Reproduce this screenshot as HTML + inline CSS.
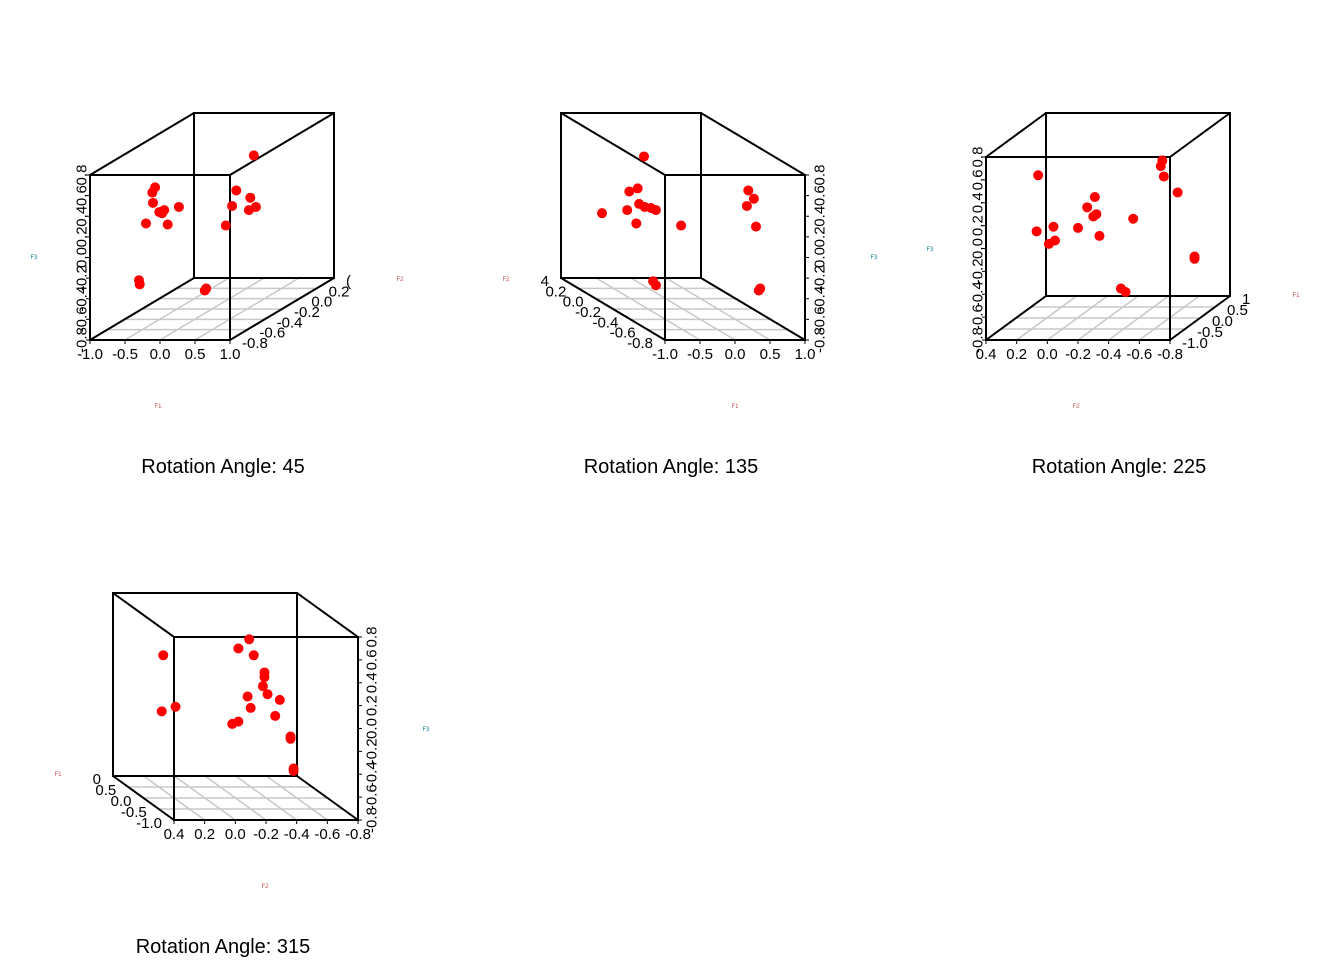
<!DOCTYPE html>
<html><head><meta charset="utf-8"><style>
body{margin:0;background:#fff;}
svg{display:block;font-family:"Liberation Sans",sans-serif;}
</style></head><body>
<svg id="chart" width="1344" height="960" viewBox="0 0 1344 960"></svg>
<script>
// ---- data ----
const titles = ["Rotation Angle: 45","Rotation Angle: 135","Rotation Angle: 225","Rotation Angle: 315"];
const zTicks = [-0.8,-0.6,-0.4,-0.2,0.0,0.2,0.4,0.6,0.8];
const hTicksA = [-1.0,-0.5,0.0,0.5,1.0];
const hTicksB = [0.4,0.2,0.0,-0.2,-0.4,-0.6,-0.8];
const dTicksA = ["-0.8","-0.6","-0.4","-0.2","0.0","0.2","("];
const dTicksB = ["-0.8","-0.6","-0.4","-0.2","0.0","0.2","4"];
const dTicksC = ["-1.0","-0.5","0.0","0.5","1"];
const dTicksD = ["-1.0","-0.5","0.0","0.5","0"];
const p1H=[1.34,1.09,1.29,1.03,1.37,1.27,0.94,-0.07,-0.11,-0.10,0.27,0.06,-0.01,0.03,-0.20,0.11,-0.30,-0.29,0.66,0.64];
const p1V=[0.99,0.65,0.58,0.50,0.49,0.46,0.31,0.68,0.63,0.53,0.49,0.46,0.44,0.43,0.33,0.32,-0.22,-0.26,-0.30,-0.32];
const p2H=[-1.30,-1.51,-1.39,-1.37,-1.54,-1.29,-1.20,-1.13,-1.90,-1.41,-0.77,0.19,0.27,0.17,0.30,-1.17,-1.13,0.36,0.34];
const p2V=[0.98,0.64,0.67,0.52,0.46,0.49,0.48,0.46,0.43,0.33,0.31,0.65,0.57,0.50,0.30,-0.23,-0.27,-0.30,-0.32];
const p3H=[-0.75,-0.74,-0.76,-0.85,0.06,-0.31,-0.26,-0.32,-0.30,-0.56,-0.04,-0.20,0.07,-0.34,-0.05,-0.01,-0.96,-0.96,-0.48,-0.51];
const p3V=[0.77,0.72,0.63,0.49,0.64,0.45,0.36,0.30,0.28,0.26,0.19,0.18,0.15,0.11,0.07,0.04,-0.07,-0.09,-0.35,-0.38];
const p4H=[-0.09,-0.02,-0.12,0.47,-0.19,-0.19,-0.18,-0.21,-0.08,-0.29,0.39,0.48,-0.10,-0.26,-0.02,0.02,-0.36,-0.36,-0.38,-0.38];
const p4V=[0.78,0.70,0.64,0.64,0.49,0.45,0.37,0.30,0.28,0.25,0.19,0.15,0.18,0.11,0.06,0.04,-0.07,-0.09,-0.35,-0.37];

const NS="http://www.w3.org/2000/svg";
const svg=document.getElementById('chart');
function mk(tag,attrs,parent,text){const e=document.createElementNS(NS,tag);for(const k in attrs)e.setAttribute(k,attrs[k]);if(text!==undefined)e.textContent=text;(parent||svg).appendChild(e);return e;}

const panels=[
 {L:90,R:230,T:175,B:340,dx:104,dy:-62,h0:-1,h1:1,hT:hTicksA,vX:82,vSide:-1,dT:dTicksA,H:p1H,V:p1V,title:[223,466],
  lab:[["F1",158,408,"#c0504d"],["F2",400,281,"#c0504d"],["F3",34,259,"#1f7fa0"]]},
 {L:665,R:805,T:175,B:340,dx:-104,dy:-62,h0:-1,h1:1,hT:hTicksA,vX:820,vSide:1,dT:dTicksB,H:p2H,V:p2V,title:[671,466],
  lab:[["F1",735,408,"#c0504d"],["F2",506,281,"#c0504d"],["F3",874,259,"#1f7fa0"]]},
 {L:986,R:1170,T:157,B:340,dx:60,dy:-44,h0:0.4,h1:-0.8,hT:hTicksB,vX:978,vSide:-1,dT:dTicksC,H:p3H,V:p3V,title:[1119,466],
  lab:[["F2",1076,408,"#c0504d"],["F1",1296,297,"#c0504d"],["F3",930,251,"#1f7fa0"]]},
 {L:174,R:358,T:637,B:820,dx:-61,dy:-44,h0:0.4,h1:-0.8,hT:hTicksB,vX:372,vSide:1,dT:dTicksD,H:p4H,V:p4V,title:[223,946],
  lab:[["F2",265,888,"#c0504d"],["F1",58,776,"#c0504d"],["F3",426,731,"#1f7fa0"]]}
];

panels.forEach((p,i)=>{
 const g=mk('g',{});
 
 
 const sx=h=>p.L+(h-p.h0)/(p.h1-p.h0)*(p.R-p.L);
 const sy=v=>p.B-(v+0.8)/1.6*(p.B-p.T);
 // floor grid
 const gg=mk('g',{stroke:'#c8c8c8','stroke-width':1.5},g);
 
 
 const n=p.dT.length-1;
 for(let k=1;k<n;k++){const f=k/n;mk('line',{x1:p.L+p.dx*f,y1:p.B+p.dy*f,x2:p.R+p.dx*f,y2:p.B+p.dy*f},gg);}
 p.hT.forEach((t,k)=>{if(k==0||k==p.hT.length-1)return;const x=sx(t);mk('line',{x1:x,y1:p.B,x2:x+p.dx,y2:p.B+p.dy},gg);});
 // box
 const bx=mk('g',{stroke:'#000','stroke-width':2,fill:'none'},g);
 
 
 const L=p.L,R=p.R,T=p.T,B=p.B,dx=p.dx,dy=p.dy;
 mk('rect',{x:L,y:T,width:R-L,height:B-T},bx);
 mk('rect',{x:L+dx,y:T+dy,width:R-L,height:B-T},bx);
 [[L,T],[R,T],[L,B],[R,B]].forEach(c=>mk('line',{x1:c[0],y1:c[1],x2:c[0]+dx,y2:c[1]+dy},bx));
 // horizontal ticks
 p.hT.forEach(t=>{const x=sx(t);
  mk('line',{x1:x,y1:B,x2:x,y2:B+4,stroke:'#000','stroke-width':1},g);
  const tx=mk('text',{x:x,y:B+19,'font-size':15,'text-anchor':'middle'},g,t.toFixed(1));
  
  });
 // vertical ticks
 const ex=p.vSide<0?L:R;
 zTicks.forEach(t=>{const y=sy(t);
  mk('line',{x1:ex,y1:y,x2:ex+4*p.vSide,y2:y,stroke:'#000','stroke-width':1},g);
  const tx=mk('text',{x:p.vX,y:y,'font-size':15,'text-anchor':'middle',transform:`rotate(-90 ${p.vX} ${y})`,'dominant-baseline':'central'},g,t.toFixed(1));
  
  });
 // depth ticks
 const dEdgeX=p.dx>0?R:L;
 p.dT.forEach((t,k)=>{const f=k/n;const x=dEdgeX+dx*f,y=B+dy*f;
  const tx=mk('text',{x:x+(p.dx>0?12:-12),y:y+8,'font-size':15,'text-anchor':p.dx>0?'start':'end'},g,t);
  
  });
 // points
 p.H.forEach((h,k)=>{const c=mk('circle',{cx:sx(h),cy:sy(p.V[k]),r:5,fill:'#ff0000'},g);
  
  });
 // tiny axis labels
 p.lab.forEach(l=>{const tx=mk('text',{x:l[1],y:l[2],'font-size':6,fill:l[3],'text-anchor':'middle'},g,l[0]);
  
  });
 const tt=mk('text',{x:p.title[0],y:p.title[1]+7,'font-size':20,'text-anchor':'middle'},g,p.title[0]?titles[i]:'');
 
 
});
</script>
</body></html>
